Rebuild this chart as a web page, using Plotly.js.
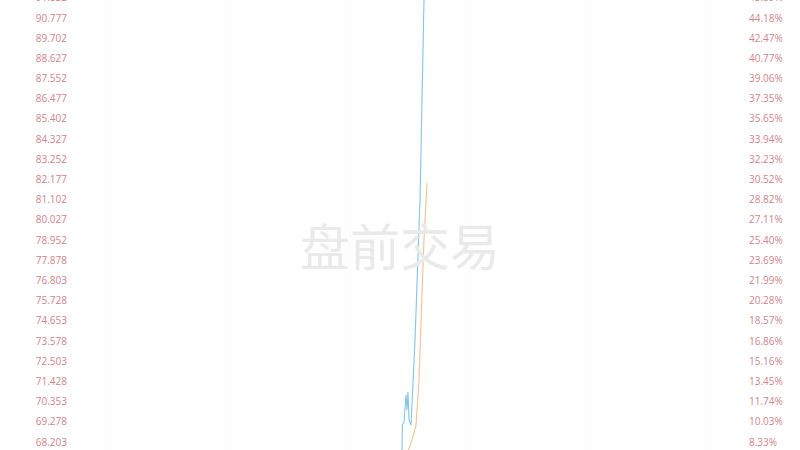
<!DOCTYPE html>
<html>
<head>
<meta charset="utf-8">
<script src="https://cdn.plot.ly/plotly-3.0.1.min.js"></script>
<style>
  body { margin: 0; background: #fff; overflow: hidden; }
  #chart { position: absolute; left: 0; top: -12px; width: 800px; height: 462px; }
</style>
</head>
<body>
<div id="chart"></div>
<script>
// pre-market minutes since 04:00
const priceMinutes = [161, 161.2, 162, 163, 163.5, 164, 164.5, 165.5, 167.5, 170, 172, 173]
const priceValues  = [67.70, 69.11, 69.27, 70.71, 69.91, 70.87, 69.37, 69.11, 73.63, 81.09, 91.74, 96.0]

const avgMinutes = [164, 166, 168, 169.5, 170.5, 172, 173.5]
const avgValues  = [67.70, 68.30, 69.10, 71.50, 74.50, 79.00, 82.00]

// left axis labels (price) and right axis labels (change)
const priceTicks = ["68.203", "69.278", "70.353", "71.428", "72.503", "73.578", "74.653", "75.728",
  "76.803", "77.878", "78.952", "80.027", "81.102", "82.177", "83.252", "84.327", "85.402",
  "86.477", "87.552", "88.627", "89.702", "90.777", "91.852"]
const pctTicks = ["8.33%", "10.03%", "11.74%", "13.45%", "15.16%", "16.86%", "18.57%", "20.28%",
  "21.99%", "23.69%", "25.40%", "27.11%", "28.82%", "30.52%", "32.23%", "33.94%", "35.65%",
  "37.35%", "39.06%", "40.77%", "42.47%", "44.18%", "45.89%"]

const tickVals = priceTicks.map(parseFloat)
const yRange = [67.777, 92.376]
const labelFont = {family: "Open Sans, sans-serif", size: 10, color: "#d0848b"}

const traces = [
  {
    x: avgMinutes, y: avgValues, mode: 'lines', type: 'scatter',
    line: {color: '#f4bf95', width: 1.1}, hoverinfo: 'skip'
  },
  {
    x: priceMinutes, y: priceValues, mode: 'lines', type: 'scatter',
    line: {color: '#86c3e8', width: 1.1}, hoverinfo: 'skip'
  },
  {
    // keeps the right axis alive
    x: [0], y: [tickVals[0]], yaxis: 'y2', mode: 'markers',
    marker: {opacity: 0}, hoverinfo: 'skip'
  }
]

const layout = {
  width: 800, height: 462,
  margin: {l: 80, r: 60, t: 0, b: 0},
  paper_bgcolor: '#fff', plot_bgcolor: '#fff',
  showlegend: false,
  xaxis: {
    range: [0, 330], showticklabels: false, zeroline: false,
    showgrid: true, gridcolor: '#f9f9f9', tick0: 15, dtick: 60, fixedrange: true
  },
  yaxis: {
    range: yRange, tickvals: tickVals, ticktext: priceTicks,
    tickfont: labelFont, showgrid: false, zeroline: false, ticks: '', ticklabelstandoff: 12
  },
  yaxis2: {
    range: yRange, tickvals: tickVals, ticktext: pctTicks, overlaying: 'y', side: 'right',
    tickfont: labelFont, showgrid: false, zeroline: false, ticks: '', ticklabelstandoff: 8
  },
  annotations: [{
    text: '盘前交易', xref: 'paper', yref: 'paper', x: 0.485, y: 0.445,
    showarrow: false,
    font: {family: 'Noto Sans CJK SC', size: 50, color: '#eaeaea'}
  }]
}

Plotly.newPlot('chart', traces, layout, {displayModeBar: false, staticPlot: true})
</script>
</body>
</html>
